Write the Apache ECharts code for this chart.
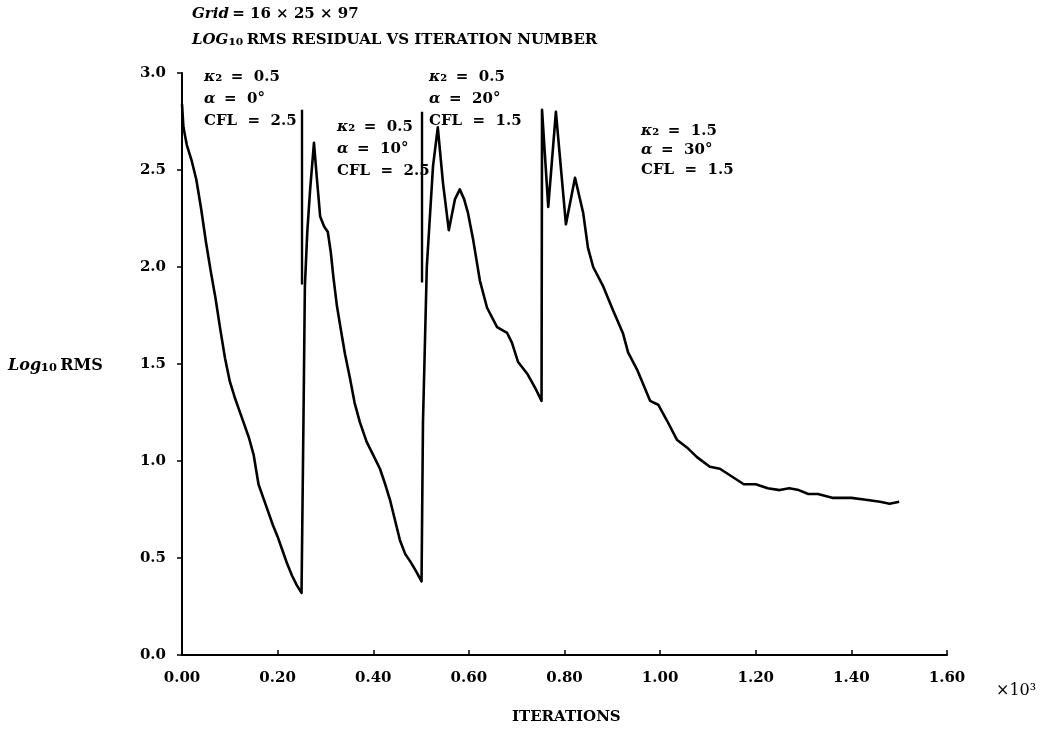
<!DOCTYPE html>
<html>
<head>
<meta charset="utf-8">
<script src="https://cdn.jsdelivr.net/npm/echarts@6/dist/echarts.min.js"></script>
<style>
  html, body { margin: 0; padding: 0; background: #fff; }
  #chart { width: 1049px; height: 733px; }
</style>
</head>
<body>
<div id="chart"></div>
<script>
// Iteration count (units of 10^3) and log10 RMS residual along the run
const iterations = [
  0.000, 0.003, 0.010, 0.020, 0.030, 0.040, 0.050, 0.060, 0.070, 0.080,
  0.090, 0.100, 0.110, 0.120, 0.130, 0.140, 0.150, 0.160, 0.170, 0.180,
  0.190, 0.200, 0.210, 0.220, 0.230, 0.240, 0.250,
  0.254, 0.257, 0.262, 0.268, 0.276, 0.282, 0.289, 0.297, 0.305, 0.311,
  0.317, 0.324, 0.332, 0.341, 0.351, 0.361, 0.372, 0.386, 0.400, 0.414,
  0.425, 0.435, 0.445, 0.456, 0.467, 0.478, 0.490, 0.501,
  0.504, 0.512, 0.525, 0.535, 0.546, 0.558, 0.571, 0.581, 0.590, 0.598,
  0.609, 0.623, 0.638, 0.659, 0.680, 0.690, 0.703, 0.722, 0.738, 0.752,
  0.753, 0.766, 0.782, 0.803, 0.822, 0.839, 0.849, 0.860, 0.881, 0.901,
  0.922, 0.933, 0.952, 0.979, 0.996, 1.014, 1.035, 1.056, 1.077, 1.104,
  1.125, 1.150, 1.175, 1.200, 1.225, 1.250, 1.270, 1.290, 1.310, 1.330,
  1.360, 1.400, 1.430, 1.460, 1.480, 1.500
];
const logRms = [
  2.84, 2.72, 2.63, 2.55, 2.45, 2.30, 2.13, 1.98, 1.84, 1.68,
  1.53, 1.41, 1.33, 1.26, 1.19, 1.12, 1.03, 0.88, 0.81, 0.74,
  0.67, 0.61, 0.54, 0.47, 0.41, 0.36, 0.32,
  1.20, 1.90, 2.18, 2.40, 2.64, 2.46, 2.26, 2.21, 2.18, 2.08,
  1.94, 1.80, 1.68, 1.55, 1.43, 1.30, 1.20, 1.10, 1.03, 0.96,
  0.88, 0.80, 0.70, 0.59, 0.52, 0.48, 0.43, 0.38,
  1.20, 2.00, 2.52, 2.72, 2.43, 2.19, 2.35, 2.40, 2.35, 2.28,
  2.14, 1.93, 1.79, 1.69, 1.66, 1.61, 1.51, 1.45, 1.38, 1.31,
  2.81, 2.31, 2.80, 2.22, 2.46, 2.28, 2.10, 2.00, 1.90, 1.78,
  1.66, 1.56, 1.47, 1.31, 1.29, 1.21, 1.11, 1.07, 1.02, 0.97,
  0.96, 0.92, 0.88, 0.88, 0.86, 0.85, 0.86, 0.85, 0.83, 0.83,
  0.81, 0.81, 0.80, 0.79, 0.78, 0.79
];

// Restart markers drawn at the start of the second and third runs
const restartX = [0.251, 0.502];
const restartTop = [2.81, 2.80];
const restartBottom = [1.91, 1.92];

// Run parameters shown beside each run
const runLabels = [
  ['0.5', '0°', '2.5'],
  ['0.5', '10°', '2.5'],
  ['0.5', '20°', '1.5'],
  ['1.5', '30°', '1.5']
];

const xTicks = { min: 0, max: 1.6, step: 0.2 };
const yTicks = { min: 0, max: 3.0, step: 0.5 };

const FONT = '"DejaVu Serif", "Liberation Serif", serif';

const chart = echarts.init(document.getElementById('chart'), null, { renderer: 'canvas' });

const curve = iterations.map((x, i) => [x, logRms[i]]);
const restartSeries = restartX.map((x, i) => ({
  type: 'line',
  data: [[x, restartTop[i]], [x, restartBottom[i]]],
  showSymbol: false,
  lineStyle: { color: '#000', width: 2.4 },
  silent: true,
  animation: false
}));

function runText(vals) {
  return [
    '{i|κ}{s|₂} {r| =  ' + vals[0] + '}',
    '{i|α} {r| =  ' + vals[1] + '}',
    '{r|CFL  =  ' + vals[2] + '}'
  ].join('\n');
}
function runRich(lh) {
  return {
    i: { fontFamily: FONT, fontStyle: 'italic', fontWeight: 'bold', fontSize: 15, lineHeight: lh, fill: '#000' },
    s: { fontFamily: FONT, fontWeight: 'bold', fontSize: 16, lineHeight: lh, fill: '#000' },
    r: { fontFamily: FONT, fontWeight: 'bold', fontSize: 15, lineHeight: lh, fill: '#000' }
  };
}
const runPos = [[204, 69, 22], [337, 119, 22], [429, 69, 22], [641, 123, 19.5]];

const graphics = runLabels.map((vals, k) => ({
  type: 'text',
  left: runPos[k][0],
  top: runPos[k][1],
  style: { text: runText(vals), rich: runRich(runPos[k][2]), fill: '#000' },
  z: 10
}));

graphics.push(
  {
    type: 'text', left: 192, top: 7,
    style: {
      text: '{i|Grid} {r|= 16 × 25 × 97}',
      rich: {
        i: { fontFamily: FONT, fontStyle: 'italic', fontWeight: 'bold', fontSize: 15, fill: '#000' },
        r: { fontFamily: FONT, fontWeight: 'bold', fontSize: 15, fill: '#000' }
      }
    }
  },
  {
    type: 'text', left: 192, top: 32,
    style: {
      text: '{i|LOG}{s|₁₀} {r|RMS RESIDUAL VS ITERATION NUMBER}',
      rich: {
        i: { fontFamily: FONT, fontStyle: 'italic', fontWeight: 'bold', fontSize: 15, fill: '#000' },
        s: { fontFamily: FONT, fontWeight: 'bold', fontSize: 17, fill: '#000' },
        r: { fontFamily: FONT, fontWeight: 'bold', fontSize: 15, fill: '#000' }
      }
    }
  },
  {
    type: 'text', left: 8, top: 357,
    style: {
      text: '{i|Log}{s|₁₀} {r|RMS}',
      rich: {
        i: { fontFamily: FONT, fontStyle: 'italic', fontWeight: 'bold', fontSize: 16, fill: '#000' },
        s: { fontFamily: FONT, fontWeight: 'bold', fontSize: 18, fill: '#000' },
        r: { fontFamily: FONT, fontWeight: 'bold', fontSize: 16, fill: '#000' }
      }
    }
  },
  {
    type: 'text', left: 512, top: 710,
    style: { text: 'ITERATIONS', fontFamily: FONT, fontWeight: 'bold', fontSize: 15, fill: '#000' }
  },
  {
    type: 'text', left: 996, top: 683,
    style: { text: '×10³', fontFamily: FONT, fontSize: 16, fill: '#000' }
  }
);

chart.setOption({
  animation: false,
  backgroundColor: '#fff',
  grid: { left: 182, right: 102, top: 73, bottom: 78, containLabel: false },
  xAxis: {
    type: 'value',
    min: xTicks.min, max: xTicks.max, interval: xTicks.step,
    axisLine: { show: true, onZero: false, lineStyle: { color: '#000', width: 2 } },
    axisTick: { show: true, inside: true, length: 5, lineStyle: { color: '#000', width: 1.5 } },
    axisLabel: {
      color: '#000', fontFamily: FONT, fontWeight: 'bold', fontSize: 15, margin: 16,
      formatter: v => v.toFixed(2)
    },
    splitLine: { show: false }
  },
  yAxis: {
    type: 'value',
    min: yTicks.min, max: yTicks.max, interval: yTicks.step,
    axisLine: { show: true, onZero: false, lineStyle: { color: '#000', width: 2 } },
    axisTick: { show: true, inside: false, length: 5, lineStyle: { color: '#000', width: 1.5 } },
    axisLabel: {
      color: '#000', fontFamily: FONT, fontWeight: 'bold', fontSize: 15, margin: 16,
      formatter: v => v.toFixed(1)
    },
    splitLine: { show: false }
  },
  series: [
    {
      type: 'line',
      data: curve,
      showSymbol: false,
      smooth: false,
      lineStyle: { color: '#000', width: 2.6, join: 'round' },
      silent: true
    }
  ].concat(restartSeries),
  graphic: graphics
});
</script>
</body>
</html>
